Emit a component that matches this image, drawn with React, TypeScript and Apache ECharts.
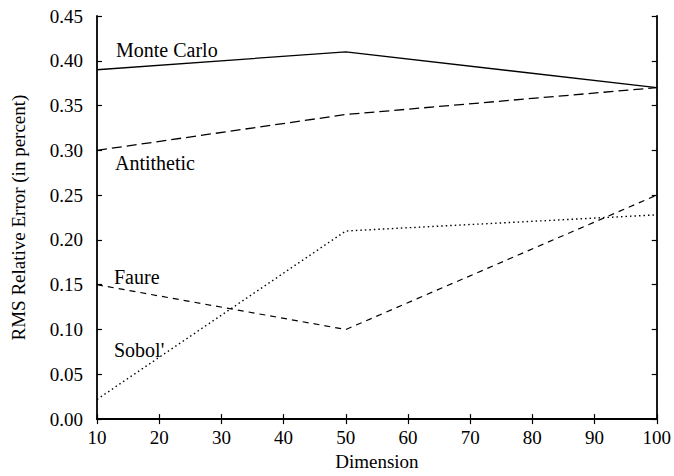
import React, { useEffect, useRef } from "react";
import * as echarts from "echarts";

const dimensions = [10, 50, 100];
const monteCarlo = [0.39, 0.41, 0.37];
const antithetic = [0.3, 0.34, 0.37];
const faure = [0.15, 0.1, 0.25];
const sobol = [0.022, 0.21, 0.228];
const seriesNames = ["Monte Carlo", "Antithetic", "Faure", "Sobol'"];

const FONT = "Liberation Serif";
const FS = 19;

export default function App() {
  const ref = useRef<HTMLDivElement>(null);
  useEffect(() => {
    document.body.style.margin = "0";
    const chart = echarts.init(ref.current!, null, { renderer: "svg" });
    const pair = (vals: number[]) => dimensions.map((d, i) => [d, vals[i]]);
    const lineStyles: any[] = [
      { type: "solid", width: 1.3 },
      { type: [10, 5], width: 1.3 },
      { type: [6, 5], width: 1.2 },
      { type: [1.5, 3], width: 1.4 },
    ];
    const allVals = [monteCarlo, antithetic, faure, sobol];
    const xCommon = {
      type: "value",
      min: 10,
      max: 100,
      interval: 10,
      splitLine: { show: false },
      axisLine: { show: true, lineStyle: { color: "#000", width: 1.8 } },
      axisTick: { show: true, inside: true, length: 5, lineStyle: { color: "#000", width: 1.2 } },
    };
    const yCommon = {
      type: "value",
      min: 0,
      max: 0.45,
      interval: 0.05,
      splitLine: { show: false },
      axisLine: { show: true, lineStyle: { color: "#000", width: 1.8 } },
      axisTick: { show: true, inside: true, length: 5, lineStyle: { color: "#000", width: 1.2 } },
    };
    const label = (text: string, x: number, y: number) => ({
      type: "text",
      x,
      y,
      style: { text, fontFamily: FONT, fontSize: 20, fill: "#000", verticalAlign: "middle", align: "left" },
    });
    chart.setOption({
      animation: false,
      backgroundColor: "#fff",
      grid: { left: 97, right: 16, top: 16, bottom: 55, containLabel: false },
      xAxis: [
        {
          ...xCommon,
          position: "bottom",
          name: "Dimension",
          nameLocation: "middle",
          nameGap: 32,
          nameTextStyle: { fontFamily: FONT, fontSize: FS, color: "#000" },
          axisLabel: { fontFamily: FONT, fontSize: FS, color: "#000", margin: 9 },
        },
        { ...xCommon, position: "top", axisLabel: { show: false } },
      ],
      yAxis: [
        {
          ...yCommon,
          position: "left",
          name: "RMS Relative Error (in percent)",
          nameLocation: "middle",
          nameGap: 69,
          nameTextStyle: { fontFamily: FONT, fontSize: FS, color: "#000" },
          axisLabel: {
            fontFamily: FONT,
            fontSize: FS,
            color: "#000",
            margin: 14,
            formatter: (v: number) => v.toFixed(2),
          },
        },
        { ...yCommon, position: "right", axisLabel: { show: false } },
      ],
      graphic: [
        label(seriesNames[0], 116, 50),
        label(seriesNames[1], 115, 163),
        label(seriesNames[2], 114, 277),
        label(seriesNames[3], 114, 350),
      ],
      series: allVals.map((vals, i) => ({
        name: seriesNames[i],
        type: "line",
        data: pair(vals),
        showSymbol: false,
        symbol: "none",
        lineStyle: { color: "#000", ...lineStyles[i] },
      })),
    });
    return () => chart.dispose();
  }, []);
  return <div ref={ref} style={{ width: 674, height: 476 }} />;
}
